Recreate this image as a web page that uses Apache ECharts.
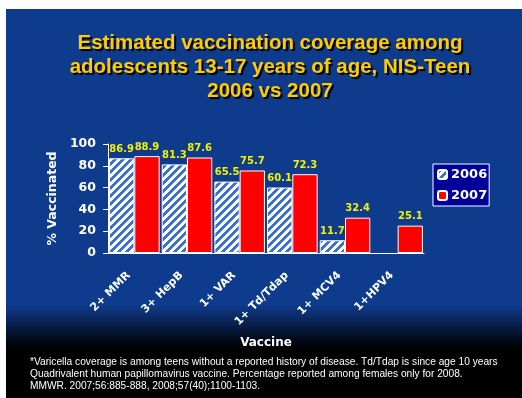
<!DOCTYPE html>
<html>
<head>
<meta charset="utf-8">
<script src="https://cdn.jsdelivr.net/npm/echarts@6/dist/echarts.min.js"></script>
<style>
html, body { margin: 0; padding: 0; background: #ffffff; }
#main { width: 522px; height: 398px; }
</style>
</head>
<body>
<div id="main"></div>
<script>
var vaccines = ['2+ MMR', '3+ HepB', '1+ VAR', '1+ Td/Tdap', '1+ MCV4', '1+HPV4'];
var cov2006 = [86.9, 81.3, 65.5, 60.1, 11.7, null];
var cov2007 = [88.9, 87.6, 75.7, 72.3, 32.4, 25.1];
var yTicks = [0, 20, 40, 60, 80, 100];

var titleLines = ['Estimated vaccination coverage among', 'adolescents 13-17 years of age, NIS-Teen', '2006 vs 2007'];
var notes = [
    '*Varicella coverage is among teens without a reported history of disease. Td/Tdap is since age 10 years',
    'Quadrivalent human papillomavirus vaccine. Percentage reported among females only for 2008.',
    'MMWR. 2007;56:885-888, 2008;57(40);1100-1103.'
];

var verdana = 'Verdana, "DejaVu Sans", sans-serif';
var arial = 'Arial, "Liberation Sans", sans-serif';

// striped fill for 2006 bars
var stripe = document.createElement('canvas');
stripe.width = 8;
stripe.height = 8;
var sctx = stripe.getContext('2d');
var img = sctx.createImageData(8, 8);
for (var py = 0; py < 8; py++) {
    for (var px = 0; px < 8; px++) {
        var k = (py * 8 + px) * 4;
        var blue = ((px + py) % 8) < 4;
        img.data[k] = blue ? 60 : 255;
        img.data[k + 1] = blue ? 112 : 255;
        img.data[k + 2] = blue ? 212 : 255;
        img.data[k + 3] = 255;
    }
}
sctx.putImageData(img, 0, 0);

var chart = echarts.init(document.getElementById('main'));

var labelStyle = {
    show: true,
    position: 'top',
    distance: 4,
    color: '#f2f200',
    fontFamily: verdana,
    fontWeight: 'bold',
    fontSize: 10
};

var graphics = [{
    type: 'rect',
    z: -10,
    shape: { x: 6, y: 9, width: 516, height: 389 },
    style: {
        fill: new echarts.graphic.LinearGradient(0, 0, 0, 1, [
            { offset: 0, color: '#0f3b8d' },
            { offset: 0.76, color: '#0f3b8d' },
            { offset: 0.87, color: '#000000' },
            { offset: 1, color: '#000000' }
        ])
    }
}, {
    type: 'text',
    style: {
        text: titleLines.join('\n'),
        x: 270,
        y: 31,
        textAlign: 'center',
        fill: '#ffcc00',
        font: 'bold 20.5px ' + arial,
        lineHeight: 24,
        textShadowColor: '#000000',
        textShadowOffsetX: 2,
        textShadowOffsetY: 2,
        textShadowBlur: 1
    }
}];
notes.forEach(function (t, i) {
    graphics.push({
        type: 'text',
        style: {
            text: t,
            x: 30,
            y: 362.5 + i * 12,
            textVerticalAlign: 'middle',
            fill: '#ffffff',
            font: '10.2px ' + arial
        }
    });
});

var option = {
    animation: false,
    backgroundColor: '#ffffff',
    graphic: graphics,
    legend: {
        orient: 'vertical',
        left: 433,
        top: 164,
        padding: [4, 2, 4, 4],
        itemGap: 8,
        itemWidth: 9,
        itemHeight: 9,
        backgroundColor: '#000099',
        borderColor: '#ffffff',
        borderWidth: 1,
        textStyle: {
            color: '#ffffff',
            fontFamily: verdana,
            fontWeight: 'bold',
            fontSize: 13,
            padding: [0, 0, 0, -1]
        },
        data: ['2006', '2007']
    },
    grid: {
        left: 108,
        right: 98,
        top: 144,
        bottom: 145
    },
    xAxis: {
        type: 'category',
        data: vaccines,
        name: 'Vaccine',
        nameLocation: 'middle',
        nameGap: 84,
        nameTextStyle: {
            color: '#ffffff',
            fontFamily: verdana,
            fontWeight: 'bold',
            fontSize: 12
        },
        axisLine: { lineStyle: { color: '#ffffff', width: 1 } },
        axisTick: { length: 4, lineStyle: { color: '#ffffff' } },
        axisLabel: {
            rotate: 45,
            margin: 15,
            padding: [0, 8, 0, 0],
            color: '#ffffff',
            fontFamily: verdana,
            fontWeight: 'bold',
            fontSize: 11,
            interval: 0
        }
    },
    yAxis: {
        type: 'value',
        min: 0,
        max: 100,
        interval: 20,
        name: '% Vaccinated',
        nameLocation: 'middle',
        nameGap: 48,
        nameRotate: 90,
        nameTextStyle: {
            color: '#ffffff',
            fontFamily: verdana,
            fontWeight: 'bold',
            fontSize: 12.5
        },
        splitLine: { show: false },
        axisLine: { show: true, lineStyle: { color: '#ffffff', width: 1 } },
        axisTick: { show: true, length: 5, lineStyle: { color: '#ffffff' } },
        axisLabel: {
            margin: 12,
            color: '#ffffff',
            fontFamily: verdana,
            fontWeight: 'bold',
            fontSize: 12.5,
            formatter: function (v) { return yTicks.indexOf(v) >= 0 ? String(v) : ''; }
        }
    },
    series: [{
        name: '2006',
        type: 'bar',
        data: cov2006,
        barGap: '0%',
        barCategoryGap: '4%',
        itemStyle: {
            color: { image: stripe, repeat: 'repeat' },
            borderColor: '#ffffff',
            borderWidth: 1
        },
        label: labelStyle
    }, {
        name: '2007',
        type: 'bar',
        data: cov2007,
        itemStyle: {
            color: '#ff0000',
            borderColor: '#ffffff',
            borderWidth: 1
        },
        label: labelStyle
    }]
};

chart.setOption(option);
</script>
</body>
</html>
